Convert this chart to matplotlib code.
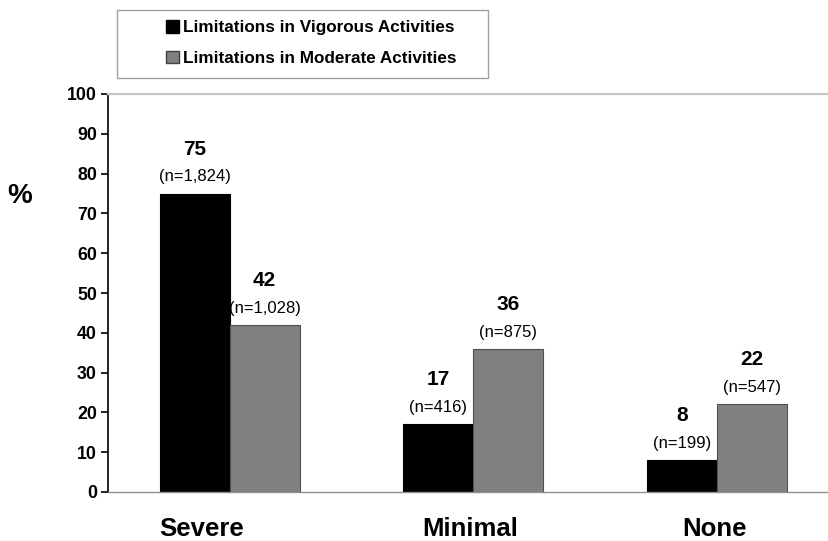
import matplotlib.pyplot as plt
import numpy as np
from matplotlib.patches import Patch, Rectangle

plt.rcParams['font.family'] = ['Liberation Sans', 'DejaVu Sans']

categories = ['Severe', 'Minimal', 'None']
vigorous = [75, 17, 8]
moderate = [42, 36, 22]
vigorous_n = ['1,824', '416', '199']
moderate_n = ['1,028', '875', '547']
series_names = ['Limitations in Vigorous Activities',
                'Limitations in Moderate Activities']

W, H = 829, 541
fig = plt.figure(figsize=(W / 100, H / 100), dpi=100)
ax = fig.add_axes([108 / W, 49 / H, 721 / W, 398 / H])

x = np.arange(len(categories))
w = 0.287
b1 = ax.bar(x - w / 2, vigorous, w, color='black', edgecolor='black', lw=0.8)
b2 = ax.bar(x + w / 2, moderate, w, color='#808080', edgecolor='#505050', lw=0.8)

for bars, vals, ns in ((b1, vigorous, vigorous_n), (b2, moderate, moderate_n)):
    for bar, v, n in zip(bars, vals, ns):
        cx = bar.get_x() + bar.get_width() / 2
        ax.annotate(f'(n={n})', (cx, v), xytext=(0, 12), textcoords='offset points',
                    ha='center', va='center', fontsize=12)
        ax.annotate(str(v), (cx, v), xytext=(0, 32), textcoords='offset points',
                    ha='center', va='center', fontsize=15, fontweight='bold')

ax.set_xlim(-0.5, 2.46)
ax.set_ylim(0, 100)
ax.set_yticks(range(0, 101, 10))
ax.set_xticks([])
ax.tick_params(axis='y', direction='out', length=5, width=1.2, labelsize=12.8, pad=3)
for lab in ax.get_yticklabels():
    lab.set_fontweight('bold')

# category names under the groups (Severe sits a bit left of its group)
label_shift = [-20, -2, -2]
for xi, name, dx in zip(x, categories, label_shift):
    ax.annotate(name, (xi, 0), xycoords=('data', 'axes fraction'),
                xytext=(dx, -27), textcoords='offset points',
                ha='center', va='center', fontsize=18.5, fontweight='bold')

ax.spines['right'].set_visible(False)
ax.spines['left'].set_color('black')
ax.spines['left'].set_linewidth(1.2)
ax.spines['top'].set_color('#c8c8c8')
ax.spines['top'].set_linewidth(1.6)
ax.spines['bottom'].set_color('#909090')
ax.spines['bottom'].set_linewidth(1.0)

fig.text(20 / W, 1 - 196 / H, '%', fontsize=20, fontweight='bold',
         ha='center', va='center')

# legend box
fig.patches.append(Rectangle((117 / W, 1 - 78 / H), 371 / W, 68 / H,
                             transform=fig.transFigure, facecolor='white',
                             edgecolor='#a0a0a0', lw=1.0))
handles = [Patch(facecolor='black', edgecolor='black'),
           Patch(facecolor='#808080', edgecolor='#404040')]
leg = fig.legend(handles, series_names, loc='upper left',
                 bbox_to_anchor=(166 / W, 1 - 20 / H),
                 frameon=False, prop={'weight': 'bold', 'size': 12.3},
                 handlelength=0.75, handleheight=0.75, handletextpad=0.25,
                 borderpad=0, borderaxespad=0, labelspacing=0.9)

fig.savefig('out.png', dpi=100)
